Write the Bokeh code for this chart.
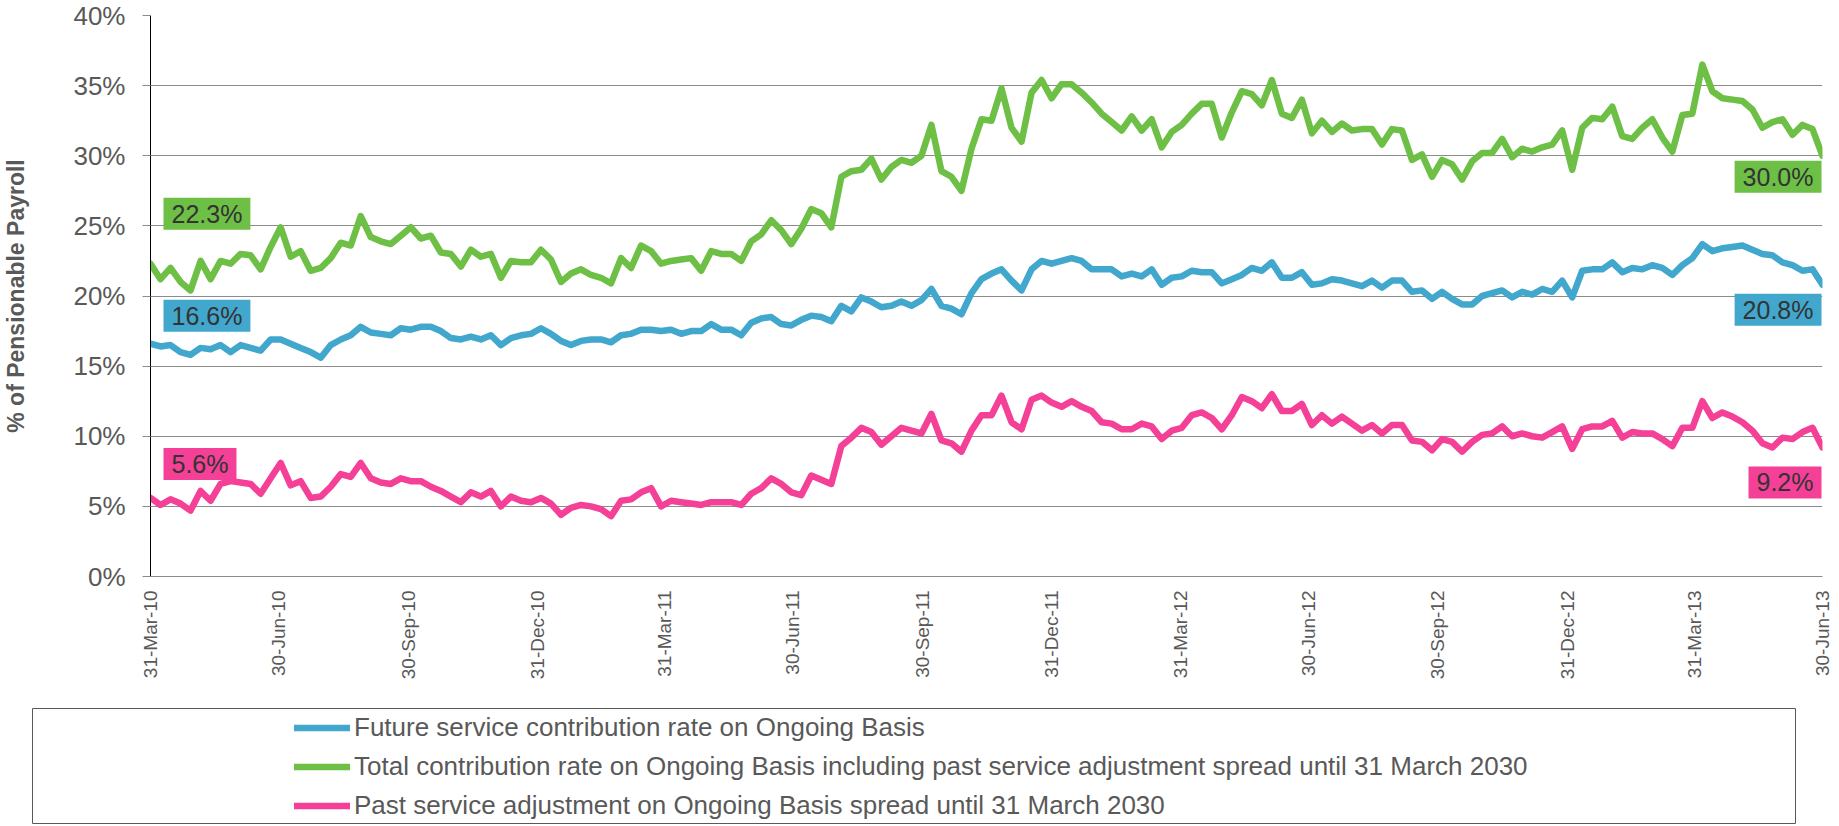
import numpy as np
import pandas as pd
from bokeh.plotting import figure
from bokeh.models import (Range1d, FixedTicker, PrintfTickFormatter, DatetimeTickFormatter,
                          Label, Legend, LegendItem)
from bokeh.layouts import column
from bokeh.embed import file_html
from bokeh.resources import INLINE

# ---------------- data ----------------
start_date = "2010-03-31"
end_date = "2013-06-30"
tick_dates = ["2010-03-31", "2010-06-30", "2010-09-30", "2010-12-31", "2011-03-31",
              "2011-06-30", "2011-09-30", "2011-12-31", "2012-03-31", "2012-06-30",
              "2012-09-30", "2012-12-31", "2013-03-31", "2013-06-30"]
y_ticks = [0, 5, 10, 15, 20, 25, 30, 35, 40]

series_names = [
    "Future service contribution rate on Ongoing Basis",
    "Total contribution rate on Ongoing Basis including past service adjustment spread until 31 March 2030",
    "Past service adjustment on Ongoing Basis spread until 31 March 2030",
]

future_rate = [
    16.6, 16.4, 16.5, 16.0, 15.8, 16.3, 16.2, 16.5, 16.0, 16.5, 16.3, 16.1, 16.9, 16.9, 16.6, 16.3, 16.0, 15.6, 16.5, 16.9, 17.2, 17.8, 17.4, 17.3, 17.2, 17.7, 17.6, 17.8,
    17.8, 17.5, 17.0, 16.9, 17.1, 16.9, 17.2, 16.5, 17.0, 17.2, 17.3, 17.7, 17.3, 16.8, 16.5, 16.8, 16.9, 16.9, 16.7, 17.2, 17.3, 17.6, 17.6, 17.5, 17.6, 17.3, 17.5, 17.5,
    18.0, 17.6, 17.6, 17.2, 18.1, 18.4, 18.5, 18.0, 17.9, 18.3, 18.6, 18.5, 18.2, 19.3, 18.9, 19.9, 19.6, 19.2, 19.3, 19.6, 19.3, 19.7, 20.5, 19.3, 19.1, 18.7, 20.2, 21.2,
    21.6, 21.9, 21.1, 20.4, 21.9, 22.5, 22.3, 22.5, 22.7, 22.5, 21.9, 21.9, 21.9, 21.4, 21.6, 21.4, 21.9, 20.8, 21.3, 21.4, 21.8, 21.7, 21.7, 20.9, 21.2, 21.5, 22.0, 21.8,
    22.4, 21.3, 21.3, 21.7, 20.8, 20.9, 21.2, 21.1, 20.9, 20.7, 21.1, 20.6, 21.1, 21.1, 20.3, 20.4, 19.8, 20.3, 19.8, 19.4, 19.4, 20.0, 20.2, 20.4, 19.9, 20.3, 20.1, 20.5,
    20.3, 21.1, 19.9, 21.8, 21.9, 21.9, 22.4, 21.7, 22.0, 21.9, 22.2, 22.0, 21.5, 22.2, 22.7, 23.7, 23.2, 23.4, 23.5, 23.6, 23.3, 23.0, 22.9, 22.4, 22.2, 21.8, 21.9, 20.8,
]

total_rate = [
    22.3, 21.2, 22.0, 21.0, 20.4, 22.5, 21.2, 22.5, 22.3, 23.0, 22.9, 21.9, 23.5, 24.9, 22.8, 23.2, 21.8, 22.0, 22.7, 23.8, 23.6, 25.7, 24.2, 23.9, 23.7, 24.3, 24.9, 24.1,
    24.3, 23.1, 23.0, 22.1, 23.3, 22.8, 23.0, 21.3, 22.5, 22.4, 22.4, 23.3, 22.6, 21.0, 21.6, 21.9, 21.5, 21.3, 20.9, 22.7, 22.0, 23.6, 23.2, 22.3, 22.5, 22.6, 22.7, 21.8,
    23.2, 23.0, 23.0, 22.5, 23.9, 24.4, 25.4, 24.7, 23.7, 24.8, 26.2, 25.9, 24.9, 28.5, 28.9, 29.0, 29.8, 28.3, 29.2, 29.7, 29.5, 30.0, 32.2, 28.9, 28.5, 27.5, 30.5, 32.6,
    32.5, 34.8, 32.0, 31.0, 34.5, 35.4, 34.1, 35.1, 35.1, 34.5, 33.8, 33.0, 32.4, 31.8, 32.8, 31.8, 32.6, 30.6, 31.7, 32.2, 33.0, 33.7, 33.7, 31.3, 33.1, 34.6, 34.4, 33.6,
    35.4, 33.0, 32.7, 34.0, 31.6, 32.5, 31.7, 32.3, 31.8, 31.9, 31.9, 30.8, 31.9, 31.8, 29.7, 30.1, 28.5, 29.7, 29.4, 28.3, 29.6, 30.2, 30.2, 31.2, 29.9, 30.5, 30.3, 30.6,
    30.8, 31.8, 29.0, 32.0, 32.7, 32.6, 33.5, 31.4, 31.2, 32.0, 32.6, 31.3, 30.3, 32.9, 33.0, 36.5, 34.6, 34.1, 34.0, 33.9, 33.3, 32.0, 32.4, 32.6, 31.5, 32.2, 31.9, 30.0,
]

past_adj = [
    5.6, 5.1, 5.5, 5.2, 4.7, 6.1, 5.4, 6.6, 6.8, 6.7, 6.6, 5.9, 7.0, 8.1, 6.5, 6.8, 5.6, 5.7, 6.4, 7.3, 7.1, 8.1, 7.0, 6.7, 6.6, 7.0, 6.8, 6.8,
    6.4, 6.1, 5.7, 5.3, 6.0, 5.7, 6.1, 5.0, 5.7, 5.4, 5.3, 5.6, 5.2, 4.4, 4.9, 5.1, 5.0, 4.8, 4.3, 5.4, 5.5, 6.0, 6.3, 5.0, 5.4, 5.3, 5.2, 5.1,
    5.3, 5.3, 5.3, 5.1, 5.9, 6.3, 7.0, 6.6, 6.0, 5.8, 7.2, 6.9, 6.6, 9.3, 9.9, 10.6, 10.3, 9.4, 10.0, 10.6, 10.4, 10.2, 11.6, 9.7, 9.5, 8.9, 10.4, 11.5,
    11.5, 12.9, 11.0, 10.5, 12.6, 12.9, 12.4, 12.1, 12.5, 12.1, 11.8, 11.0, 10.9, 10.5, 10.5, 10.9, 10.7, 9.8, 10.4, 10.6, 11.5, 11.7, 11.3, 10.5, 11.5, 12.8, 12.5, 12.0,
    13.0, 11.8, 11.8, 12.3, 10.8, 11.5, 10.9, 11.4, 10.9, 10.4, 10.8, 10.2, 10.8, 10.8, 9.7, 9.6, 9.0, 9.8, 9.6, 8.9, 9.6, 10.1, 10.2, 10.7, 10.0, 10.2, 10.0, 9.9,
    10.3, 10.7, 9.1, 10.5, 10.7, 10.7, 11.1, 9.9, 10.3, 10.2, 10.2, 9.8, 9.3, 10.6, 10.6, 12.5, 11.3, 11.7, 11.4, 11.0, 10.4, 9.5, 9.2, 9.9, 9.8, 10.3, 10.6, 9.2,
]

dates = pd.date_range(start_date, end_date, periods=len(total_rate))

# ---------------- styles ----------------
BLUE = "#41a7cd"
GREEN = "#6dbf45"
PINK = "#f44096"
FONT = "Liberation Sans"
TXT = "#595959"
GRID = "#8c8c8c"
LW = 6.5
W = 1836


def ms(d):
    return pd.Timestamp(d).value / 1e6


p = figure(width=W, height=707, x_axis_type="datetime",
           x_range=Range1d(ms(start_date), ms(end_date)), y_range=Range1d(0, 40),
           output_backend="svg", toolbar_location=None,
           min_border_left=148, min_border_right=14, min_border_top=15, min_border_bottom=131)
p.frame_align = False
p.outline_line_color = None
p.background_fill_color = "white"
p.border_fill_color = "white"
p.xgrid.visible = False
p.ygrid.grid_line_color = GRID
p.ygrid.grid_line_width = 1

p.yaxis.ticker = FixedTicker(ticks=y_ticks)
p.yaxis.formatter = PrintfTickFormatter(format="%d%%")
p.yaxis.axis_line_color = "black"
p.yaxis.major_tick_out = 8
p.yaxis.major_tick_in = 0
p.yaxis.minor_tick_out = 0
p.yaxis.minor_tick_in = 0
p.yaxis.major_tick_line_color = GRID
p.yaxis.major_label_standoff = 17
p.yaxis.major_label_text_font = FONT
p.yaxis.major_label_text_font_size = "26px"
p.yaxis.major_label_text_color = TXT
p.yaxis.axis_label = "% of Pensionable Payroll"
p.yaxis.axis_label_text_font = FONT
p.yaxis.axis_label_text_font_style = "bold"
p.yaxis.axis_label_text_font_size = "23px"
p.yaxis.axis_label_text_color = TXT
p.yaxis.axis_label_standoff = 41

fmt = "%d-%b-%y"
p.xaxis.ticker = FixedTicker(ticks=[ms(d) for d in tick_dates])
p.xaxis.formatter = DatetimeTickFormatter(
    microseconds=fmt, milliseconds=fmt, seconds=fmt, minsec=fmt, minutes=fmt,
    hourmin=fmt, hours=fmt, days=fmt, months=fmt, years=fmt)
p.xaxis.major_label_orientation = np.pi / 2
p.xaxis.major_tick_out = 0
p.xaxis.major_tick_in = 0
p.xaxis.minor_tick_out = 0
p.xaxis.minor_tick_in = 0
p.xaxis.axis_line_color = GRID
p.xaxis.major_label_standoff = 14
p.xaxis.major_label_text_font = FONT
p.xaxis.major_label_text_font_size = "19px"
p.xaxis.major_label_text_color = TXT

x = [ms(d) for d in dates]
series = [(future_rate, BLUE), (total_rate, GREEN), (past_adj, PINK)]
for vals, c in [(total_rate, GREEN), (future_rate, BLUE), (past_adj, PINK)]:
    p.line(x, vals, line_width=LW, color=c, line_join="round", line_cap="round")

# value labels at the start and end of each series (padding = horizontal, vertical)
for vals, c, dy0, dy1 in [(total_rate, GREEN, 50, -21), (future_rate, BLUE, 28, -25),
                          (past_adj, PINK, 34, -35)]:
    p.add_layout(Label(x=x[0], y=vals[0], x_offset=13, y_offset=dy0,
                       text=f"{vals[0]:.1f}%", text_align="left", text_baseline="middle",
                       background_fill_color=c, padding=(8, 2),
                       text_font=FONT, text_font_size="25px", text_color="#333333"))
    p.add_layout(Label(x=x[-1], y=vals[-1], x_offset=-1, y_offset=dy1,
                       text=f"{vals[-1]:.1f}%", text_align="right", text_baseline="middle",
                       background_fill_color=c, padding=(8, 2),
                       text_font=FONT, text_font_size="25px", text_color="#333333"))

# ---------------- legend panel (its frame outline is the legend box) ----------------
lg = figure(width=W, height=117, x_range=Range1d(0, 1), y_range=Range1d(0, 1),
            output_backend="svg", toolbar_location=None,
            x_axis_location=None, y_axis_location=None,
            min_border_left=32, min_border_right=41, min_border_top=1, min_border_bottom=1)
lg.frame_align = False
lg.grid.visible = False
lg.outline_line_color = "#595959"
lg.outline_line_width = 1
items = []
for name, (vals, c) in zip(series_names, series):
    r = lg.line([-1.0], [-1.0], color=c, line_width=LW, line_cap="round")
    items.append(LegendItem(label=name, renderers=[r]))
legend = Legend(items=items, location=(262, -2), orientation="vertical",
                border_line_alpha=0, background_fill_alpha=0, padding=0, margin=0,
                spacing=0, glyph_width=56, glyph_height=39, label_height=39,
                label_standoff=4, label_text_font=FONT, label_text_font_size="26px",
                label_text_color=TXT)
lg.add_layout(legend, "center")

layout = column(p, lg, spacing=0)
open("out.html", "w").write(file_html(layout, INLINE))
